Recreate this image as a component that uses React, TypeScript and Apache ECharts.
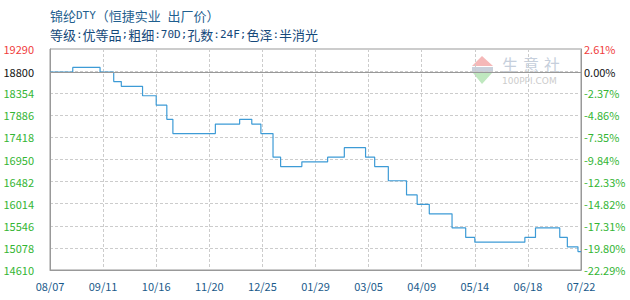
import React, { useEffect, useRef } from 'react';
import * as echarts from 'echarts';

// Ex-factory price of nylon DTY, one entry per price change
const changeDates = [
  '2023-08-07', '2023-08-22', '2023-09-09', '2023-09-18', '2023-09-23',
  '2023-10-07', '2023-10-16', '2023-10-23', '2023-10-27', '2023-11-24',
  '2023-12-10', '2023-12-18', '2023-12-24', '2024-01-01', '2024-01-06',
  '2024-01-20', '2024-02-06', '2024-02-17', '2024-03-02', '2024-03-08',
  '2024-03-17', '2024-03-29', '2024-04-05', '2024-04-13', '2024-04-28',
  '2024-05-07', '2024-05-13', '2024-06-15', '2024-06-22', '2024-07-08',
  '2024-07-13', '2024-07-20',
];
const prices = [
  18800, 18900, 18800, 18600, 18500,
  18300, 18100, 17800, 17500, 17700,
  17800, 17700, 17500, 17000, 16800,
  16900, 17000, 17200, 17000, 16800,
  16500, 16200, 16000, 15800, 15500,
  15300, 15200, 15300, 15500, 15300,
  15100, 15000,
];
const endDate = '2024-07-22';

const basePrice = 18800;
const yMin = 14610;
const yMax = 19290;
const yStep = 468;
const yLabelValues = [14610, 15078, 15546, 16014, 16482, 16950, 17418, 17886, 18354, 18800, 19290];
const xLabels = ['08/07', '09/11', '10/16', '11/20', '12/25', '01/29', '03/05', '04/09', '05/14', '06/18', '07/22'];
const dayStep = 35;

const titleText = '锦纶DTY（恒捷实业 出厂价）';
const subtitleText = '等级:优等品;粗细:70D;孔数:24F;色泽:半消光';

const DAY_MS = 86400000;
const t0 = Date.parse(changeDates[0]);
const toDay = (d: string) => Math.round((Date.parse(d) - t0) / DAY_MS);

const RED = '#f03c3c';
const GREEN = '#33b533';
const BLACK = '#111111';
const AXIS_FONT = 'Noto Sans CJK SC';

const labelColor = (v: any) => {
  const n = Number(v);
  if (n === yMax) return RED;
  if (n === basePrice) return BLACK;
  return GREEN;
};

// Half-width Latin runs in a monospace face, ideographs in the CJK face
const toRich = (s: string) =>
  s.replace(/([\x20-\x7e]+)|([^\x20-\x7e]+)/g, (m, latin) => (latin ? `{a|${m}}` : `{c|${m}}`));

const headingRich = {
  a: { fontFamily: 'DejaVu Sans Mono', fontSize: 11, lineHeight: 18 },
  c: { fontFamily: 'Noto Sans CJK SC', fontSize: 13, lineHeight: 18 },
};

export default function App() {
  const ref = useRef<HTMLDivElement>(null);

  useEffect(() => {
    if (!ref.current) return;
    const chart = echarts.init(ref.current, null, { renderer: 'svg' });

    const seriesData = changeDates.map((d, i) => [toDay(d), prices[i]]);
    seriesData.push([toDay(endDate), prices[prices.length - 1]]);

    const yAxisCommon = {
      type: 'value',
      min: yMin,
      max: yMax,
      interval: yStep,
      axisLine: { show: true, lineStyle: { color: '#999999' } },
      axisTick: { show: false },
      splitLine: { show: true, lineStyle: { color: '#cccccc', type: [3, 2] } },
    };

    chart.setOption({
      animation: false,
      backgroundColor: '#ffffff',
      grid: {
        left: 50, right: 49, top: 49, bottom: 30,
        show: true, borderColor: '#999999', borderWidth: 1,
      },
      xAxis: {
        type: 'value',
        min: 0,
        max: dayStep * (xLabels.length - 1),
        interval: dayStep,
        axisLine: { show: true, lineStyle: { color: '#999999' } },
        axisTick: { show: false },
        splitLine: { show: true, lineStyle: { color: '#cccccc', type: [3, 2] } },
        axisLabel: {
          margin: 10,
          color: '#1a5a8a',
          fontFamily: AXIS_FONT,
          fontSize: 11,
          formatter: (v: number) => xLabels[Math.round(v / dayStep)] ?? '',
        },
      },
      yAxis: [
        {
          ...yAxisCommon,
          position: 'left',
          axisLabel: {
            customValues: yLabelValues,
            margin: 16,
            fontFamily: AXIS_FONT,
            fontSize: 11,
            color: labelColor,
            formatter: (v: number) => String(v),
          },
        },
        {
          ...yAxisCommon,
          position: 'right',
          splitLine: { show: false },
          axisLabel: {
            customValues: yLabelValues,
            margin: 3,
            fontFamily: AXIS_FONT,
            fontSize: 11,
            color: labelColor,
            formatter: (v: number) => ((v / basePrice - 1) * 100).toFixed(2) + '%',
          },
        },
      ],
      graphic: [
        {
          type: 'text', x: 50, y: 15.5, z: 10,
          style: {
            text: toRich(titleText), fill: '#1f5f8f', verticalAlign: 'middle',
            rich: headingRich,
          },
        },
        {
          type: 'text', x: 50, y: 34.5, z: 10,
          style: {
            text: toRich(subtitleText), fill: '#15497a', verticalAlign: 'middle',
            rich: headingRich,
          },
        },
        // faint site logo inside the plot
        {
          type: 'group', z: -1, silent: true,
          children: [
            { type: 'polygon', shape: { points: [[482, 56], [472, 66], [493, 66]] }, style: { fill: '#f5b8b8' } },
            { type: 'rect', shape: { x: 472, y: 67, width: 21, height: 5 }, style: { fill: '#c9d0db' } },
            { type: 'polygon', shape: { points: [[473, 73], [492, 73], [482, 84]] }, style: { fill: '#bfe8bf' } },
            { type: 'text', x: 502, y: 56, style: { text: '生', fill: '#c6cfdc', font: '16px "Noto Sans CJK SC"' } },
            { type: 'text', x: 523, y: 56, style: { text: '意', fill: '#c6cfdc', font: '16px "Noto Sans CJK SC"' } },
            { type: 'text', x: 544, y: 56, style: { text: '社', fill: '#c6cfdc', font: '16px "Noto Sans CJK SC"' } },
            { type: 'text', x: 502, y: 76, style: { text: '100PPI.COM', fill: '#cccccc', font: '9px "DejaVu Sans"' } },
          ],
        },
      ],
      series: [
        {
          type: 'line',
          step: 'end',
          showSymbol: false,
          symbol: 'none',
          data: seriesData,
          lineStyle: { color: '#3d9bd6', width: 1.2 },
          markLine: {
            silent: true,
            symbol: 'none',
            label: { show: false },
            lineStyle: { color: '#999999', type: 'solid', width: 1 },
            data: [{ yAxis: basePrice }],
          },
        },
      ],
    });

    return () => chart.dispose();
  }, []);

  return (
    <div
      ref={ref}
      style={{ position: 'fixed', left: 0, top: 0, width: 630, height: 300, background: '#ffffff' }}
    />
  );
}
